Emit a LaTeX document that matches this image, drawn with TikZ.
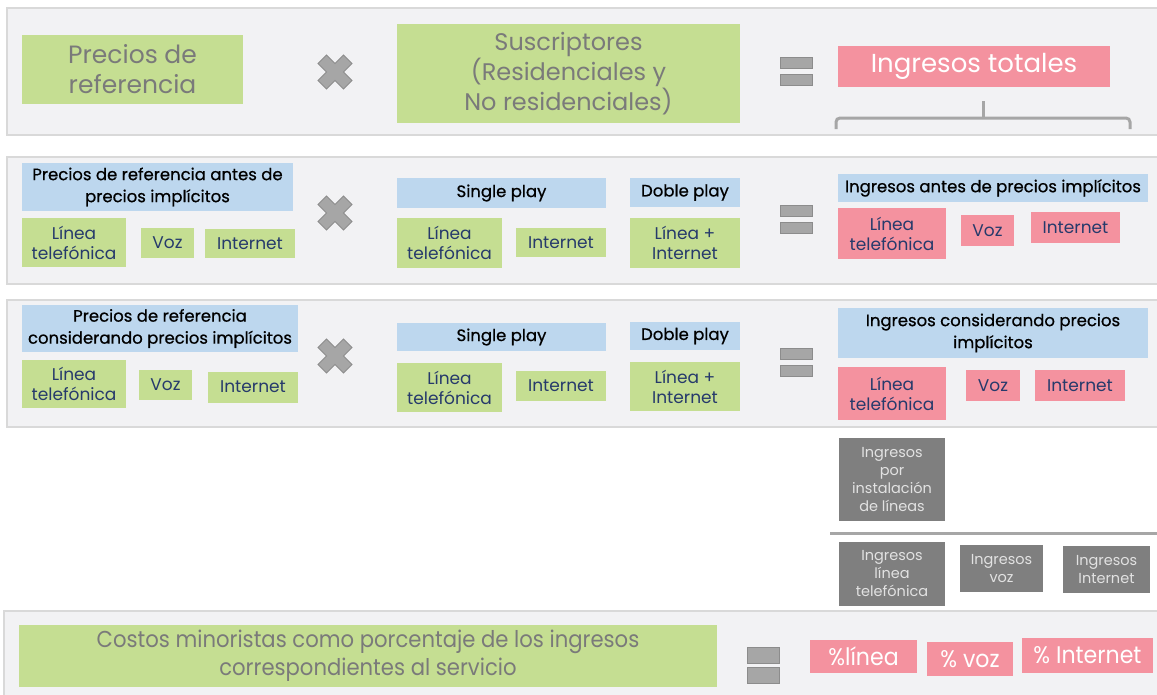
\documentclass[tikz,border=0pt]{standalone}
\usepackage{fontspec}
\setmainfont{Poppins}
\newfontfamily\condfont[FakeStretch=0.92]{Poppins}
\newfontfamily\hdfont[FakeBold=0.6]{Poppins}
\definecolor{bandfill}{HTML}{F2F2F4}
\definecolor{bandline}{HTML}{D9D9D9}
\definecolor{cgreen}{HTML}{C5DE92}
\definecolor{cblue}{HTML}{BDD7EE}
\definecolor{cpink}{HTML}{F4929F}
\definecolor{cgray}{HTML}{7F7F7F}
\definecolor{txtgray}{HTML}{7A7A7A}
\definecolor{txtnavy}{HTML}{263A6B}
\definecolor{txtlight}{HTML}{E2E2E2}
\definecolor{symfill}{HTML}{A6A6A6}
\definecolor{symline}{HTML}{8C8C8C}
\begin{document}
\begin{tikzpicture}[x=1pt,y=-1pt,
  band/.style={fill=bandfill,draw=bandline,line width=2.5pt},
  box/.style={inner sep=0pt,outer sep=0pt,align=center,anchor=center},
  wh/.style 2 args={minimum width=#1pt,minimum height=#2pt},
  greenbig/.style={box,fill=cgreen,text=txtgray,font=\fontsize{25}{30}\selectfont},
  greensm/.style={box,fill=cgreen,text=txtnavy,font=\fontsize{17}{20}\selectfont},
  bluehd/.style={box,fill=cblue,text=black,font=\hdfont\fontsize{16.5}{22}\selectfont},
  pinksm/.style={box,fill=cpink,text=txtnavy,font=\fontsize{17}{20}\selectfont},
  graybox/.style={box,fill=cgray,text=txtlight,font=\fontsize{14.5}{18}\selectfont},
  pinkbot/.style={box,fill=cpink,text=white,font=\condfont\fontsize{24}{26}\selectfont},
  crosspic/.pic={\filldraw[fill=symfill,draw=symline,line width=0.8pt,rotate=45]
    (6,18)--(6,6)--(18,6)--(18,-6)--(6,-6)--(6,-18)--(-6,-18)--(-6,-6)--(-18,-6)--(-18,6)--(-6,6)--(-6,18)--cycle;},
  eqpic/.pic={\filldraw[fill=symfill,draw=symline,line width=0.8pt] (-16,-14) rectangle (16,-3);
    \filldraw[fill=symfill,draw=symline,line width=0.8pt] (-16,3) rectangle (16,14);},
  eqbig/.pic={\filldraw[fill=symfill,draw=symline,line width=0.8pt] (-16,-18) rectangle (16,-2);
    \filldraw[fill=symfill,draw=symline,line width=0.8pt] (-16,2) rectangle (16,18);}
]
\useasboundingbox (0,0) rectangle (1157,694);
% bands
\draw[band] (7,8) rectangle (1168,135);
\draw[band] (7,157) rectangle (1168,284);
\draw[band] (7,300) rectangle (1168,427);
\draw[band] (4,611) rectangle (1168,700);

% ---- band 1
\node[greenbig,wh={221}{69}] (pr) at (132.5,69.5) {Precios de\\referencia};
\pic at (335,72) {crosspic};
\node[greenbig,wh={343}{99},font=\fontsize{24}{30}\selectfont] (sus) at (568.5,73.5) {Suscriptores\\(Residenciales y\\No residenciales)};
\pic at (796,71) {eqpic};
\node[box,fill=cpink,text=white,font=\fontsize{26}{30}\selectfont,wh={272}{41}] (it) at (974,66.5) {Ingresos totales};
\coordinate (bl) at (836,129);
\coordinate (br) at (1130,129);
\coordinate (bt) at (983,101);
\draw[symfill,line width=3pt,rounded corners=4pt] (bl) -- (836,118) -- (1130,118) -- (br);
\draw[symfill,line width=3pt] (983,119) -- (bt);

% ---- band 2
\node[bluehd,wh={271}{48}] (h2) at (157.5,187) {Precios de referencia antes de\\precios implícitos};
\node[greensm,wh={104}{49}] (g2a) at (74,242.5) {Línea\\telefónica};
\node[greensm,wh={53}{30}] (g2b) at (167.5,243) {Voz};
\node[greensm,wh={90}{29}] (g2c) at (250,243.5) {Internet};
\pic at (335,213) {crosspic};
\node[bluehd,wh={209}{30}] (sp2) at (501.5,193) {Single play};
\node[greensm,wh={105}{50}] (g2d) at (449.5,243) {Línea\\telefónica};
\node[greensm,wh={90}{29}] (g2e) at (561,242.5) {Internet};
\node[bluehd,wh={110}{29}] (dp2) at (685,192.5) {Doble play};
\node[greensm,wh={110}{50}] (g2f) at (685,243) {Línea +\\Internet};
\pic at (796,219) {eqpic};
\node[bluehd,wh={310}{28}] (ia2) at (993,188) {Ingresos antes de precios implícitos};
\node[pinksm,wh={108}{51}] (p2a) at (892,233.5) {Línea\\telefónica};
\node[pinksm,wh={53}{31}] (p2b) at (987.5,230.5) {Voz};
\node[pinksm,wh={89}{31}] (p2c) at (1075.5,227.5) {Internet};

% ---- band 3
\node[bluehd,wh={276}{47}] (h3) at (160,328.5) {Precios de referencia\\considerando precios implícitos};
\node[greensm,wh={104}{48}] (g3a) at (74,384) {Línea\\telefónica};
\node[greensm,wh={53}{30}] (g3b) at (165.5,385) {Voz};
\node[greensm,wh={90}{31}] (g3c) at (253,387) {Internet};
\pic at (335,356) {crosspic};
\node[bluehd,wh={209}{28}] (sp3) at (501.5,337) {Single play};
\node[greensm,wh={105}{49}] (g3d) at (449.5,387.5) {Línea\\telefónica};
\node[greensm,wh={90}{30}] (g3e) at (561,386) {Internet};
\node[bluehd,wh={110}{28}] (dp3) at (685,336) {Doble play};
\node[greensm,wh={110}{49}] (g3f) at (685,386.5) {Línea +\\Internet};
\pic at (796,362) {eqpic};
\node[bluehd,wh={310}{50}] (ic3) at (993,333) {Ingresos considerando precios\\implícitos};
\node[pinksm,wh={108}{53}] (p3a) at (892,393.5) {Línea\\telefónica};
\node[pinksm,wh={54}{31}] (p3b) at (993,385.5) {Voz};
\node[pinksm,wh={90}{31}] (p3c) at (1080,385.5) {Internet};

% ---- gray section
\node[graybox,wh={106}{83}] (gi) at (892,479.5) {Ingresos\\por\\instalación\\de líneas};
\coordinate (sl) at (830,533);
\coordinate (sr) at (1160,533);
\draw[symfill,line width=3pt] (sl) -- (sr);
\node[graybox,wh={106}{64}] (gl) at (892,574) {Ingresos\\línea\\telefónica};
\node[graybox,wh={83}{47}] (gv) at (1001.5,568.5) {Ingresos\\voz};
\node[graybox,wh={87}{47}] (gn) at (1106.5,569.5) {Ingresos\\Internet};

% ---- band 4
\node[box,fill=cgreen,text=txtgray,font=\condfont\fontsize{23}{28}\selectfont,wh={698}{62}] (cm) at (368,656) {Costos minoristas como porcentaje de los ingresos\\correspondientes al servicio};
\pic at (763,665) {eqbig};
\node[pinkbot,wh={107}{33}] (pl) at (863.5,656.5) {\%línea};
\node[pinkbot,wh={86}{34}] (pv) at (970,659) {\% voz};
\node[pinkbot,wh={131}{35}] (pn) at (1087.5,655.5) {\% Internet};
\end{tikzpicture}
\end{document}
